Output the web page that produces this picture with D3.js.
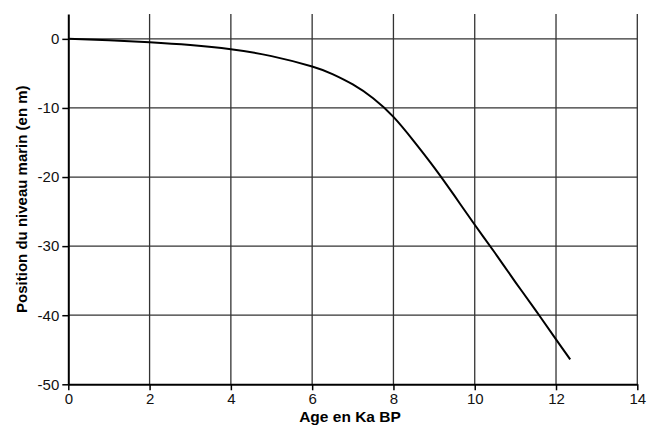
<!DOCTYPE html>
<html>
<head>
<meta charset="utf-8">
<script src="https://cdn.jsdelivr.net/npm/d3@7"></script>
<style>
  html, body { margin: 0; padding: 0; background: #fff; }
  svg { display: block; font-family: "Liberation Sans", Arial, sans-serif; }
</style>
</head>
<body>
<svg id="chart" width="662" height="429"></svg>
<script>
// Sea-level curve: age (ka BP) vs. sea-level position (m)
const ages   = [0, 1, 2, 3, 4, 5, 6, 6.5, 7, 7.5, 8, 8.5, 9, 9.5, 10, 10.5, 11, 11.5, 12, 12.35];
const levels = [0, -0.2, -0.5, -0.9, -1.5, -2.5, -4.0, -5.1, -6.6, -8.6, -11.3, -14.8, -18.6, -22.7, -26.9, -31.0, -35.2, -39.3, -43.5, -46.4];

const xTicks = [0, 2, 4, 6, 8, 10, 12, 14];
const yTicks = [0, -10, -20, -30, -40, -50];

const xTitle = "Age en Ka BP";
const yTitle = "Position du niveau marin (en m)";

const margin = { left: 68.3, right: 662 - 637.3, top: 14, bottom: 429 - 384.3 };
const W = 662, H = 429;

const svg = d3.select("#chart");

const x = d3.scaleLinear().domain([0, 14]).range([margin.left, W - margin.right]);
const y = d3.scaleLinear().domain([-50, 3.6]).range([H - margin.bottom, margin.top]);

// grid
const grid = svg.append("g").attr("stroke", "#333").attr("stroke-width", 1.3);
grid.selectAll("line.v").data(xTicks.filter(d => d > 0)).join("line")
  .attr("x1", d => x(d)).attr("x2", d => x(d))
  .attr("y1", y.range()[1]).attr("y2", y.range()[0]);
grid.selectAll("line.h").data(yTicks.filter(d => d > -50)).join("line")
  .attr("x1", x.range()[0]).attr("x2", x.range()[1])
  .attr("y1", d => y(d)).attr("y2", d => y(d));

// axes (plain hyphen for negative labels)
const fmt = d => String(d);
const xAxis = svg.append("g")
  .attr("transform", `translate(0,${y(-50)})`)
  .call(d3.axisBottom(x).tickValues(xTicks).tickFormat(fmt).tickSize(6).tickPadding(3).tickSizeOuter(0));
const yAxis = svg.append("g")
  .attr("transform", `translate(${x(0)},0)`)
  .call(d3.axisLeft(y).tickValues(yTicks).tickFormat(fmt).tickSize(6).tickPadding(3).tickSizeOuter(0));

[xAxis, yAxis].forEach(g => {
  g.attr("font-family", "'Liberation Sans', Arial, sans-serif");
  g.select(".domain").attr("stroke", "#000").attr("stroke-width", 2);
  g.selectAll(".tick line").attr("stroke", "#000").attr("stroke-width", 1.5);
  g.selectAll(".tick text").attr("fill", "#111").style("font-size", "15px");
});

// curve
const line = d3.line()
  .x((d, i) => x(ages[i]))
  .y(d => y(d))
  .curve(d3.curveNatural);

svg.append("path")
  .datum(levels)
  .attr("fill", "none")
  .attr("stroke", "#000")
  .attr("stroke-width", 2)
  .attr("d", line);

// titles
svg.append("text")
  .attr("x", 350).attr("y", 422)
  .attr("text-anchor", "middle")
  .style("font-size", "15.5px").style("font-weight", "bold")
  .text(xTitle);

svg.append("text")
  .attr("transform", `translate(27,${(y.range()[0] + y.range()[1]) / 2}) rotate(-90)`)
  .attr("text-anchor", "middle")
  .style("font-size", "15px").style("font-weight", "bold")
  .text(yTitle);
</script>
</body>
</html>
